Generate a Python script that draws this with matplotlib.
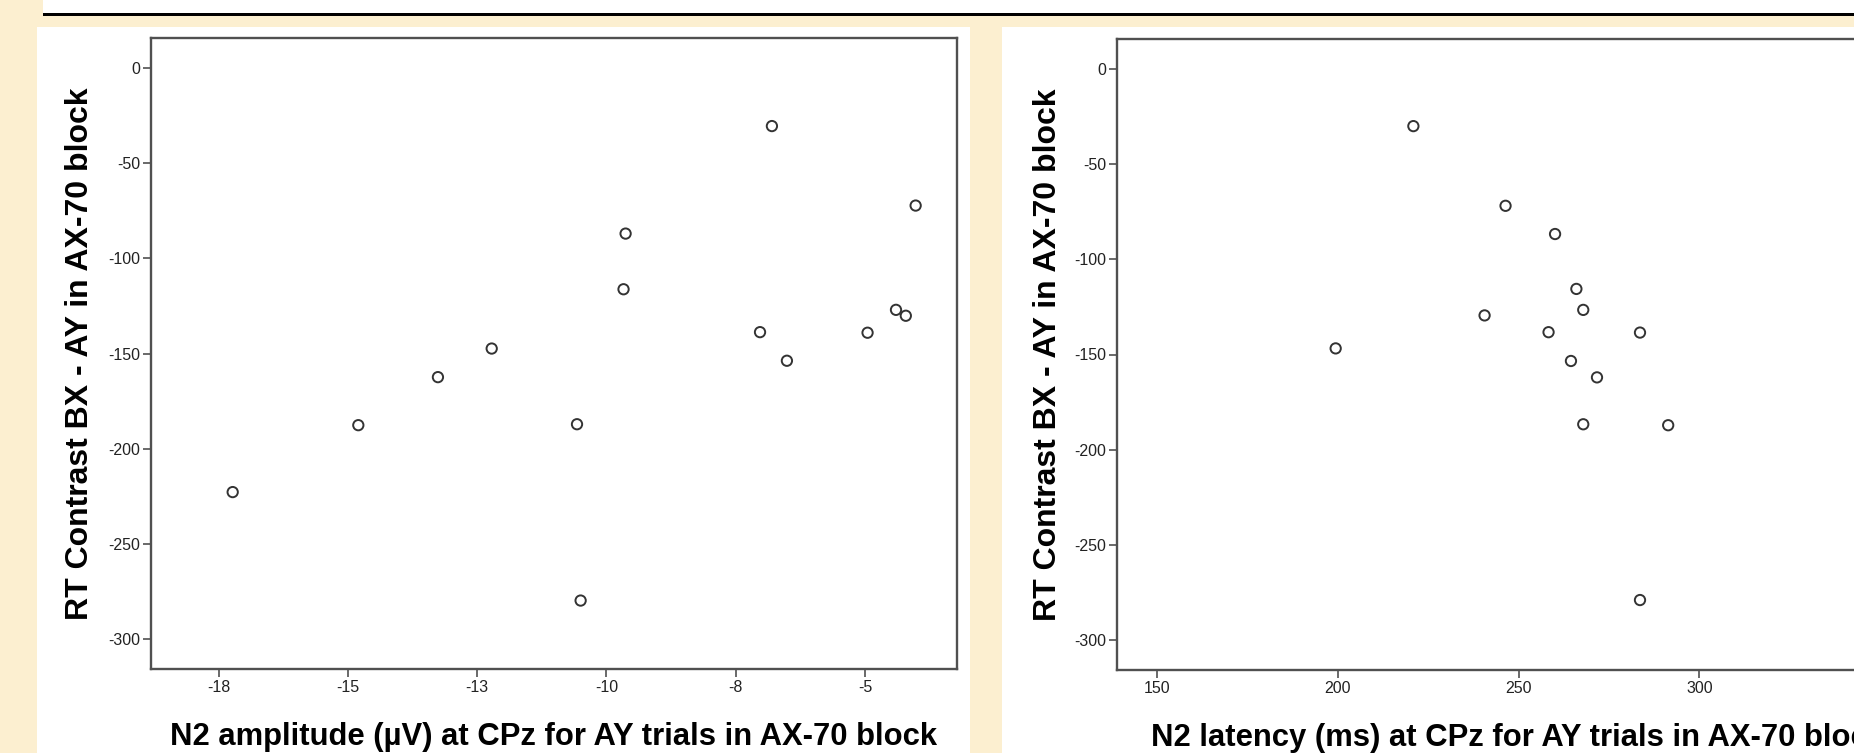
import matplotlib
matplotlib.use("Agg")
import matplotlib.pyplot as plt
from matplotlib.patches import Rectangle

# ---- data ----
amp_uv = [-17.23, -14.80, -13.26, -12.22, -10.57, -10.50, -9.67, -9.63,
          -7.03, -6.80, -6.51, -4.95, -4.40, -4.21, -4.02]
amp_rt = [-222.7, -187.6, -162.4, -147.4, -187.1, -279.6, -116.3, -87.1,
          -138.8, -30.7, -153.8, -139.1, -127.1, -130.2, -72.4]

lat_ms = [220.9, 199.4, 246.4, 260.1, 240.6, 266.0, 267.9, 258.3,
          283.6, 264.5, 271.7, 267.9, 291.4, 283.6]
lat_rt = [-30.2, -146.8, -72.0, -86.8, -129.5, -115.6, -126.6, -138.3,
          -138.5, -153.4, -162.0, -186.6, -187.1, -278.8]

amp_ticks = [-17.5, -15, -12.5, -10, -7.5, -5]
amp_ticklabels = ["-18", "-15", "-13", "-10", "-8", "-5"]
lat_ticks = [150, 200, 250, 300]
lat_ticklabels = ["150", "200", "250", "300"]
rt_ticks = [0, -50, -100, -150, -200, -250, -300]
rt_ticklabels = ["0", "-50", "-100", "-150", "-200", "-250", "-300"]

ylabel = "RT Contrast BX - AY in AX-70 block"
xlabel_amp = "N2 amplitude (\u00b5V) at CPz for AY trials in AX-70 block"
xlabel_lat = "N2 latency (ms) at CPz for AY trials in AX-70 block"

W, H = 1854, 753
BG = "#fcefd0"
SPINE = "#505050"
TICKFONT = ["Liberation Sans Narrow", "Liberation Sans", "DejaVu Sans"]
LABELFONT = ["Liberation Sans", "DejaVu Sans"]

fig = plt.figure(figsize=(W / 100, H / 100), dpi=100, facecolor=BG)


def px_rect(x0, y0, x1, y1, **kw):
    # pixel box (top-left origin) -> figure rectangle, kept under the axes
    fig.patches.append(Rectangle((x0 / W, 1 - y1 / H), (x1 - x0) / W, (y1 - y0) / H,
                                 transform=fig.transFigure, zorder=-10, **kw))


# slide decorations: white strip on top, black rule, two white panels
px_rect(43, 0, W, 13, facecolor="white", edgecolor="none")
px_rect(43, 13, W, 16, facecolor="black", edgecolor="none")
px_rect(37, 27, 970, H, facecolor="white", edgecolor="none")
px_rect(1002, 27, W, H, facecolor="white", edgecolor="none")


def make_ax(x0, y0, w, h):
    ax = fig.add_axes([x0 / W, 1 - (y0 + h) / H, w / W, h / H])
    ax.set_facecolor("white")
    for s in ax.spines.values():
        s.set_color(SPINE)
        s.set_linewidth(1.7)
    ax.tick_params(axis="both", direction="out", length=6, width=1.2,
                   color=SPINE, top=False, right=False, pad=2)
    return ax


def style_ticks(ax):
    for lab in ax.get_xticklabels() + ax.get_yticklabels():
        lab.set_family(TICKFONT)
        lab.set_fontsize(11.5)
        lab.set_color("#222222")


def add_labels(ax, xlab, xc, yx):
    ax.set_xlabel(xlab, family=LABELFONT, fontsize=22.3, fontweight="bold")
    ax.xaxis.label.set_va("baseline")
    ax.xaxis.set_label_coords(xc, -0.121)
    ax.set_ylabel(ylabel, family=LABELFONT, fontsize=23, fontweight="bold")
    ax.yaxis.label.set_va("baseline")
    ax.yaxis.set_label_coords(yx, 0.5)


# left panel: amplitude
ax1 = make_ax(151, 38, 806, 631)
ax1.scatter(amp_uv, amp_rt, s=55, facecolors="none", edgecolors="#333333",
            linewidths=1.4, zorder=3)
ax1.set_xlim(-18.81, -3.22)
ax1.set_ylim(-315.5, 15.5)
ax1.set_xticks(amp_ticks, amp_ticklabels)
ax1.set_yticks(rt_ticks, rt_ticklabels)
style_ticks(ax1)
add_labels(ax1, xlabel_amp, 0.5, -0.078)

# right panel: latency (runs off the right edge like the slide)
ax2 = make_ax(1117, 39, 806, 631)
ax2.scatter(lat_ms, lat_rt, s=55, facecolors="none", edgecolors="#333333",
            linewidths=1.4, zorder=3)
ax2.set_xlim(138.9, 361.9)
ax2.set_ylim(-315.5, 15.5)
ax2.set_xticks(lat_ticks, lat_ticklabels)
ax2.set_yticks(rt_ticks, rt_ticklabels)
style_ticks(ax2)
add_labels(ax2, xlabel_lat, 0.4975, -0.0757)

fig.savefig("out.png", dpi=100, facecolor=BG)
